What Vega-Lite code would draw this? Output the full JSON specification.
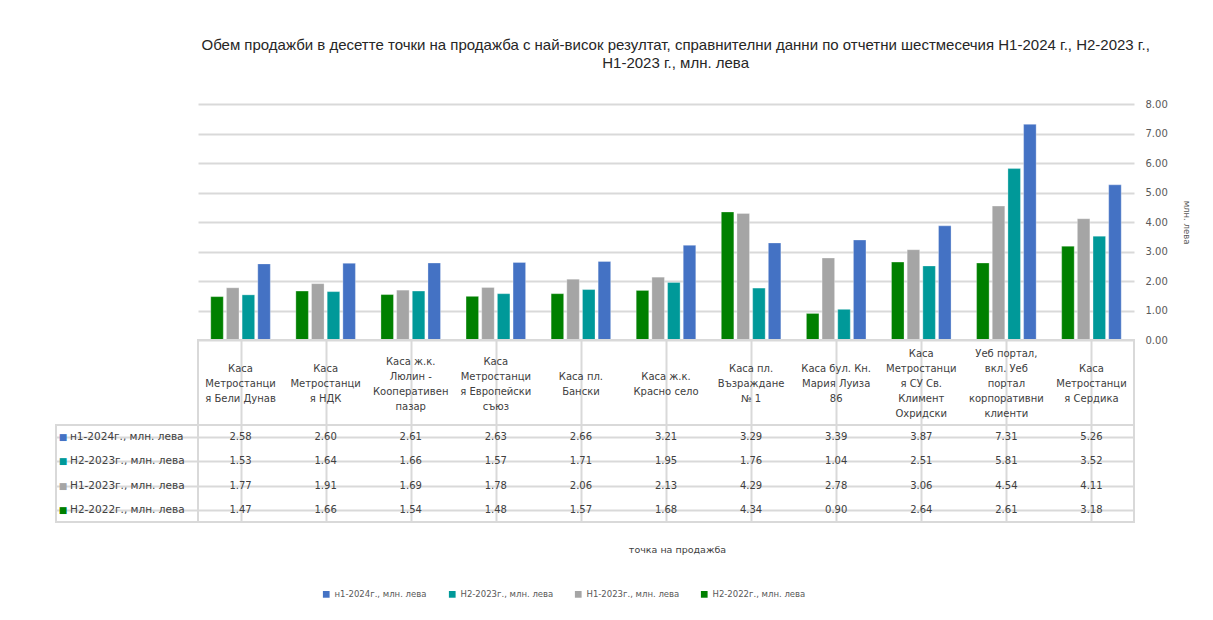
{
  "$schema": "https://vega.github.io/schema/vega-lite/v6.json",
  "background": "white",
  "padding": {"left": 55, "top": 38, "right": 0, "bottom": 0},
  "autosize": {"type": "pad"},
  "bounds": "flush",
  "spacing": 0,
  "columns": 2,
  "title": {
    "text": [
      "Обем продажби в десетте точки на продажба с най-висок резултат, справнителни данни по отчетни шестмесечия H1-2024 г., H2-2023 г.,",
      "H1-2023 г., млн. лева"
    ],
    "font": "Liberation Sans",
    "fontSize": 15,
    "fontWeight": "normal",
    "color": "#262626",
    "anchor": "middle",
    "dx": 53,
    "offset": 28,
    "lineHeight": 18
  },
  "datasets": {
    "points": [
      {"point": "Каса\nМетростанци\nя Бели  Дунав"},
      {"point": "Каса\nМетростанци\nя НДК"},
      {"point": "Каса ж.к.\nЛюлин  -\nКооперативен\nпазар"},
      {"point": "Каса\nМетростанци\nя Европейски\nсъюз"},
      {"point": "Каса пл.\nБански"},
      {"point": "Каса ж.к.\nКрасно  село"},
      {"point": "Каса пл.\nВъзраждане\n№ 1"},
      {"point": "Каса бул. Кн.\nМария Луиза\n86"},
      {"point": "Каса\nМетростанци\nя СУ  Св.\nКлимент\nОхридски"},
      {"point": "Уеб  портал,\nвкл. Уеб\nпортал\nкорпоративни\nклиенти"},
      {"point": "Каса\nМетростанци\nя Сердика"}
    ],
    "periods": [
      {"period": "н1-2024г.,  млн. лева"},
      {"period": "Н2-2023г.,  млн. лева"},
      {"period": "Н1-2023г.,  млн. лева"},
      {"period": "Н2-2022г.,  млн. лева"}
    ],
    "sales": [
      {"point": "Каса\nМетростанци\nя Бели  Дунав", "period": "н1-2024г.,  млн. лева", "value": 2.58},
      {"point": "Каса\nМетростанци\nя Бели  Дунав", "period": "Н2-2023г.,  млн. лева", "value": 1.53},
      {"point": "Каса\nМетростанци\nя Бели  Дунав", "period": "Н1-2023г.,  млн. лева", "value": 1.77},
      {"point": "Каса\nМетростанци\nя Бели  Дунав", "period": "Н2-2022г.,  млн. лева", "value": 1.47},
      {"point": "Каса\nМетростанци\nя НДК", "period": "н1-2024г.,  млн. лева", "value": 2.6},
      {"point": "Каса\nМетростанци\nя НДК", "period": "Н2-2023г.,  млн. лева", "value": 1.64},
      {"point": "Каса\nМетростанци\nя НДК", "period": "Н1-2023г.,  млн. лева", "value": 1.91},
      {"point": "Каса\nМетростанци\nя НДК", "period": "Н2-2022г.,  млн. лева", "value": 1.66},
      {"point": "Каса ж.к.\nЛюлин  -\nКооперативен\nпазар", "period": "н1-2024г.,  млн. лева", "value": 2.61},
      {"point": "Каса ж.к.\nЛюлин  -\nКооперативен\nпазар", "period": "Н2-2023г.,  млн. лева", "value": 1.66},
      {"point": "Каса ж.к.\nЛюлин  -\nКооперативен\nпазар", "period": "Н1-2023г.,  млн. лева", "value": 1.69},
      {"point": "Каса ж.к.\nЛюлин  -\nКооперативен\nпазар", "period": "Н2-2022г.,  млн. лева", "value": 1.54},
      {"point": "Каса\nМетростанци\nя Европейски\nсъюз", "period": "н1-2024г.,  млн. лева", "value": 2.63},
      {"point": "Каса\nМетростанци\nя Европейски\nсъюз", "period": "Н2-2023г.,  млн. лева", "value": 1.57},
      {"point": "Каса\nМетростанци\nя Европейски\nсъюз", "period": "Н1-2023г.,  млн. лева", "value": 1.78},
      {"point": "Каса\nМетростанци\nя Европейски\nсъюз", "period": "Н2-2022г.,  млн. лева", "value": 1.48},
      {"point": "Каса пл.\nБански", "period": "н1-2024г.,  млн. лева", "value": 2.66},
      {"point": "Каса пл.\nБански", "period": "Н2-2023г.,  млн. лева", "value": 1.71},
      {"point": "Каса пл.\nБански", "period": "Н1-2023г.,  млн. лева", "value": 2.06},
      {"point": "Каса пл.\nБански", "period": "Н2-2022г.,  млн. лева", "value": 1.57},
      {"point": "Каса ж.к.\nКрасно  село", "period": "н1-2024г.,  млн. лева", "value": 3.21},
      {"point": "Каса ж.к.\nКрасно  село", "period": "Н2-2023г.,  млн. лева", "value": 1.95},
      {"point": "Каса ж.к.\nКрасно  село", "period": "Н1-2023г.,  млн. лева", "value": 2.13},
      {"point": "Каса ж.к.\nКрасно  село", "period": "Н2-2022г.,  млн. лева", "value": 1.68},
      {"point": "Каса пл.\nВъзраждане\n№ 1", "period": "н1-2024г.,  млн. лева", "value": 3.29},
      {"point": "Каса пл.\nВъзраждане\n№ 1", "period": "Н2-2023г.,  млн. лева", "value": 1.76},
      {"point": "Каса пл.\nВъзраждане\n№ 1", "period": "Н1-2023г.,  млн. лева", "value": 4.29},
      {"point": "Каса пл.\nВъзраждане\n№ 1", "period": "Н2-2022г.,  млн. лева", "value": 4.34},
      {"point": "Каса бул. Кн.\nМария Луиза\n86", "period": "н1-2024г.,  млн. лева", "value": 3.39},
      {"point": "Каса бул. Кн.\nМария Луиза\n86", "period": "Н2-2023г.,  млн. лева", "value": 1.04},
      {"point": "Каса бул. Кн.\nМария Луиза\n86", "period": "Н1-2023г.,  млн. лева", "value": 2.78},
      {"point": "Каса бул. Кн.\nМария Луиза\n86", "period": "Н2-2022г.,  млн. лева", "value": 0.9},
      {"point": "Каса\nМетростанци\nя СУ  Св.\nКлимент\nОхридски", "period": "н1-2024г.,  млн. лева", "value": 3.87},
      {"point": "Каса\nМетростанци\nя СУ  Св.\nКлимент\nОхридски", "period": "Н2-2023г.,  млн. лева", "value": 2.51},
      {"point": "Каса\nМетростанци\nя СУ  Св.\nКлимент\nОхридски", "period": "Н1-2023г.,  млн. лева", "value": 3.06},
      {"point": "Каса\nМетростанци\nя СУ  Св.\nКлимент\nОхридски", "period": "Н2-2022г.,  млн. лева", "value": 2.64},
      {"point": "Уеб  портал,\nвкл. Уеб\nпортал\nкорпоративни\nклиенти", "period": "н1-2024г.,  млн. лева", "value": 7.31},
      {"point": "Уеб  портал,\nвкл. Уеб\nпортал\nкорпоративни\nклиенти", "period": "Н2-2023г.,  млн. лева", "value": 5.81},
      {"point": "Уеб  портал,\nвкл. Уеб\nпортал\nкорпоративни\nклиенти", "period": "Н1-2023г.,  млн. лева", "value": 4.54},
      {"point": "Уеб  портал,\nвкл. Уеб\nпортал\nкорпоративни\nклиенти", "period": "Н2-2022г.,  млн. лева", "value": 2.61},
      {"point": "Каса\nМетростанци\nя Сердика", "period": "н1-2024г.,  млн. лева", "value": 5.26},
      {"point": "Каса\nМетростанци\nя Сердика", "period": "Н2-2023г.,  млн. лева", "value": 3.52},
      {"point": "Каса\nМетростанци\nя Сердика", "period": "Н1-2023г.,  млн. лева", "value": 4.11},
      {"point": "Каса\nМетростанци\nя Сердика", "period": "Н2-2022г.,  млн. лева", "value": 3.18}
    ]
  },
  "concat": [
    {
      "width": 142,
      "height": 236,
      "data": {"values": [{}]},
      "mark": {"type": "text"},
      "encoding": {"text": {"value": ""}}
    },
    {
      "width": 936,
      "height": 236,
      "data": {"name": "sales"},
      "mark": {"type": "bar", "stroke": "white", "strokeWidth": 0.6, "strokeOpacity": 0.5},
      "encoding": {
        "x": {
          "field": "point",
          "type": "nominal",
          "sort": null,
          "axis": null,
          "scale": {"paddingInner": 0.3, "paddingOuter": 0.15}
        },
        "xOffset": {
          "field": "period",
          "type": "nominal",
          "sort": ["Н2-2022г.,  млн. лева", "Н1-2023г.,  млн. лева", "Н2-2023г.,  млн. лева", "н1-2024г.,  млн. лева"],
          "scale": {"paddingInner": 0.2}
        },
        "y": {
          "field": "value",
          "type": "quantitative",
          "stack": null,
          "scale": {"domain": [0, 8]},
          "axis": {
            "orient": "right",
            "values": [0, 1, 2, 3, 4, 5, 6, 7, 8],
            "format": ".2f",
            "title": "млн. лева",
            "titleFont": "DejaVu Sans",
            "titleFontSize": 8.5,
            "titleFontWeight": "normal",
            "titleColor": "#595959",
            "titlePadding": 14,
            "domain": false,
            "ticks": false,
            "labelPadding": 11,
            "labelFont": "DejaVu Sans",
            "labelFontSize": 10,
            "labelColor": "#595959",
            "gridColor": "#d9d9d9",
            "gridWidth": 2
          }
        },
        "color": {
          "field": "period",
          "type": "nominal",
          "scale": {
            "domain": ["н1-2024г.,  млн. лева", "Н2-2023г.,  млн. лева", "Н1-2023г.,  млн. лева", "Н2-2022г.,  млн. лева"],
            "range": ["#4472C4", "#009999", "#A5A5A5", "#008000"]
          },
          "legend": {
            "orient": "none",
            "direction": "horizontal",
            "legendX": 266,
            "legendY": 486,
            "title": null,
            "symbolType": "square",
            "symbolSize": 45,
            "symbolStrokeWidth": 0,
            "labelFont": "DejaVu Sans",
            "labelFontSize": 8.5,
            "labelColor": "#595959",
            "labelLimit": 0,
            "columnPadding": 18
          }
        }
      }
    },
    {
      "width": 142,
      "height": 85,
      "data": {"values": [{}]},
      "mark": {"type": "text"},
      "encoding": {"text": {"value": ""}}
    },
    {
      "width": 936,
      "height": 85,
      "data": {"name": "points"},
      "view": {"stroke": "#d9d9d9", "strokeWidth": 2},
      "encoding": {
        "x": {
          "field": "point",
          "type": "nominal",
          "scale": {
            "domain": [
              "Каса\nМетростанци\nя Бели  Дунав",
              "Каса\nМетростанци\nя НДК",
              "Каса ж.к.\nЛюлин  -\nКооперативен\nпазар",
              "Каса\nМетростанци\nя Европейски\nсъюз",
              "Каса пл.\nБански",
              "Каса ж.к.\nКрасно  село",
              "Каса пл.\nВъзраждане\n№ 1",
              "Каса бул. Кн.\nМария Луиза\n86",
              "Каса\nМетростанци\nя СУ  Св.\nКлимент\nОхридски",
              "Уеб  портал,\nвкл. Уеб\nпортал\nкорпоративни\nклиенти",
              "Каса\nМетростанци\nя Сердика"
            ],
            "paddingInner": 0,
            "paddingOuter": 0
          },
          "axis": {
            "orient": "top",
            "title": null,
            "labels": false,
            "ticks": false,
            "domain": false,
            "grid": true,
            "bandPosition": 0,
            "gridColor": "#d9d9d9",
            "gridWidth": 2
          }
        },
        "text": {"field": "point", "type": "nominal"}
      },
      "layer": [
        {
          "transform": [{"filter": "length(split(datum.point, '\\n')) == 2"}],
          "mark": {"type": "text", "lineBreak": "\n", "font": "DejaVu Sans", "fontSize": 10, "lineHeight": 15, "color": "#404040", "dy": -6}
        },
        {
          "transform": [{"filter": "length(split(datum.point, '\\n')) == 3"}],
          "mark": {"type": "text", "lineBreak": "\n", "font": "DejaVu Sans", "fontSize": 10, "lineHeight": 15, "color": "#404040", "dy": -13.5}
        },
        {
          "transform": [{"filter": "length(split(datum.point, '\\n')) == 4"}],
          "mark": {"type": "text", "lineBreak": "\n", "font": "DejaVu Sans", "fontSize": 10, "lineHeight": 15, "color": "#404040", "dy": -21}
        },
        {
          "transform": [{"filter": "length(split(datum.point, '\\n')) == 5"}],
          "mark": {"type": "text", "lineBreak": "\n", "font": "DejaVu Sans", "fontSize": 10, "lineHeight": 15, "color": "#404040", "dy": -28.5}
        }
      ]
    },
    {
      "width": 142,
      "height": 97,
      "data": {"name": "periods"},
      "view": {"stroke": "#d9d9d9", "strokeWidth": 2},
      "encoding": {
        "y": {
          "field": "period",
          "type": "nominal",
          "sort": null,
          "scale": {"paddingInner": 0, "paddingOuter": 0},
          "axis": {
            "title": null,
            "labels": false,
            "ticks": false,
            "domain": false,
            "grid": true,
            "bandPosition": 0,
            "gridColor": "#d9d9d9",
            "gridWidth": 2
          }
        }
      },
      "layer": [
        {
          "mark": {"type": "text", "text": "■", "font": "DejaVu Sans", "fontSize": 9, "dx": -64},
          "encoding": {
            "color": {"field": "period", "type": "nominal", "legend": null}
          }
        },
        {
          "mark": {
            "type": "text",
            "align": "left",
            "dx": -57,
            "font": "DejaVu Sans",
            "fontSize": 10.5,
            "color": "#404040"
          },
          "encoding": {"text": {"field": "period", "type": "nominal"}}
        }
      ]
    },
    {
      "width": 936,
      "height": 97,
      "data": {"name": "sales"},
      "view": {"stroke": "#d9d9d9", "strokeWidth": 2},
      "mark": {
        "type": "text",
        "font": "DejaVu Sans",
        "fontSize": 10,
        "color": "#404040"
      },
      "encoding": {
        "x": {
          "field": "point",
          "type": "nominal",
          "sort": null,
          "scale": {"paddingInner": 0, "paddingOuter": 0},
          "axis": {
            "orient": "bottom",
            "title": "точка на продажба",
            "titleFont": "DejaVu Sans",
            "titleFontSize": 9.5,
            "titleFontWeight": "normal",
            "titleColor": "#404040",
            "titleX": 479,
            "titlePadding": 22,
            "labels": false,
            "ticks": false,
            "domain": false,
            "grid": true,
            "bandPosition": 0,
            "gridColor": "#d9d9d9",
            "gridWidth": 2
          }
        },
        "y": {
          "field": "period",
          "type": "nominal",
          "sort": ["н1-2024г.,  млн. лева", "Н2-2023г.,  млн. лева", "Н1-2023г.,  млн. лева", "Н2-2022г.,  млн. лева"],
          "scale": {"paddingInner": 0, "paddingOuter": 0},
          "axis": {
            "title": null,
            "labels": false,
            "ticks": false,
            "domain": false,
            "grid": true,
            "bandPosition": 0,
            "gridColor": "#d9d9d9",
            "gridWidth": 2
          }
        },
        "text": {"field": "value", "type": "quantitative", "format": ".2f"}
      }
    }
  ],
  "config": {
    "view": {"stroke": null},
    "font": "DejaVu Sans"
  }
}
